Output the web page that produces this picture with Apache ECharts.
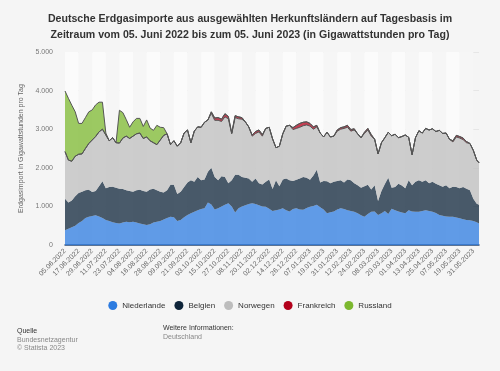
<!DOCTYPE html>
<html>
<head>
<meta charset="utf-8">
<script src="https://cdn.jsdelivr.net/npm/echarts@6/dist/echarts.min.js"></script>
<style>
html,body{margin:0;padding:0;background:#f5f5f5;}
#c{width:500px;height:371px;}
</style>
</head>
<body>
<div id="c"></div>
<script>
// Sample days (offset from 05.06.2022) at which values were read
const days = [0,3,6,9,12,15,18,21,24,27,30,33,36,39,42,45,48,51,54,57,60,63,66,69,72,75,78,81,84,87,90,93,96,99,102,105,108,111,114,117,120,123,126,129,132,135,138,141,144,147,150,153,156,159,162,165,168,171,174,177,180,183,186,189,192,195,198,201,204,207,210,213,216,219,222,225,228,231,234,237,240,243,246,249,252,255,258,261,264,267,270,273,276,279,282,285,288,291,294,297,300,303,306,309,312,315,318,321,324,327,330,333,336,339,342,345,348,351,354,357,360,363,365];

const tickLabels = ["05.06.2022","17.06.2022","29.06.2022","11.07.2022","23.07.2022","04.08.2022","16.08.2022","28.08.2022","09.09.2022","21.09.2022","03.10.2022","15.10.2022","27.10.2022","08.11.2022","20.11.2022","02.12.2022","14.12.2022","26.12.2022","07.01.2023","19.01.2023","31.01.2023","12.02.2023","24.02.2023","08.03.2023","20.03.2023","01.04.2023","13.04.2023","25.04.2023","07.05.2023","19.05.2023","31.05.2023"];

const niederlande = [380,420,460,500,570,620,700,730,750,770,740,700,650,620,590,570,560,580,600,590,600,580,560,540,520,540,580,600,620,660,700,730,720,620,650,720,780,820,860,900,930,950,1100,1050,920,950,1000,1040,1080,1000,840,950,1000,1030,1060,1080,1060,1030,1000,990,940,880,900,920,950,900,870,930,950,920,910,960,990,1010,1040,980,920,820,850,870,920,950,930,900,880,860,820,770,730,800,860,870,780,820,880,800,940,900,870,840,820,900,870,860,860,880,900,880,860,830,780,760,740,730,730,710,690,670,650,640,620,590,560];

const belgien = [820,680,690,760,780,760,720,700,620,630,780,950,820,880,920,910,900,870,820,810,780,840,870,860,860,900,880,820,760,700,720,830,840,700,730,780,840,860,780,860,750,750,800,950,840,730,780,720,520,680,980,870,760,710,660,560,660,570,570,650,760,570,780,600,750,820,810,730,740,800,850,780,700,790,910,640,740,830,750,770,740,730,690,800,800,740,730,710,790,760,580,680,360,580,700,940,540,600,720,700,650,780,680,780,820,760,780,720,780,760,770,750,810,740,780,790,780,830,810,780,580,480,480];

const norwegen = [1220,1100,1020,1040,1000,980,1080,1200,1350,1410,1410,1350,1380,1200,1270,1170,1180,1320,1400,1360,1440,1460,1470,1360,1420,1260,1190,1180,1340,1480,1460,1040,1140,1240,1270,1400,1360,970,1310,1300,1370,1480,1340,1410,1470,1550,1420,1560,1670,1200,1480,1450,1500,1450,1340,1180,1170,1330,1250,1380,1350,1300,840,1040,1180,1360,1420,1330,1330,1330,1330,1370,1390,1200,1110,1280,1140,1270,1200,1180,1290,1320,1400,1350,1270,1380,1330,1300,1370,1420,1380,1190,1220,1250,1200,1180,1350,1370,1190,1270,1380,1110,790,1140,1280,1260,1340,1380,1370,1350,1420,1380,1350,1270,1160,1300,1300,1230,1190,1210,1250,1130,1090];

const frankreich = [0,0,0,0,0,0,0,0,0,0,0,0,0,0,0,0,0,0,0,0,0,0,0,0,0,0,0,0,0,0,0,0,0,0,0,0,0,0,0,0,0,0,0,40,60,70,60,80,60,20,50,50,40,0,0,30,50,50,40,0,0,0,0,0,0,0,0,50,80,100,90,80,70,60,40,0,0,0,0,0,30,40,40,50,40,30,0,0,30,40,40,0,0,0,0,0,0,0,0,0,0,0,0,0,0,0,0,0,0,0,0,0,0,0,30,40,40,40,30,0,0,0,0];

const russland = [1570,1600,1450,1150,800,790,800,820,780,820,770,700,50,0,0,0,850,660,430,290,370,400,380,310,440,330,320,500,330,200,0,0,0,0,0,0,0,0,0,0,0,0,0,0,0,0,0,0,0,0,0,0,0,0,0,0,0,0,0,0,0,0,0,0,0,0,0,0,0,0,0,0,0,0,0,0,0,0,0,0,0,0,0,0,0,0,0,0,0,0,0,0,0,0,0,0,0,0,0,0,0,0,0,0,0,0,0,0,0,0,0,0,0,0,0,0,0,0,0,0,0,0,0];

const seriesNames = ["Niederlande","Belgien","Norwegen","Frankreich","Russland"];
const seriesColors = ["#2c7be0","#0e2439","#bdbdbd","#b3001b","#7cb82f"];
const seriesValues = [niederlande, belgien, norwegen, frankreich, russland];
const withLine = [false,false,true,true,true];

// Daily category axis: 05.06.2022 ... 05.06.2023
const startDate = new Date(Date.UTC(2022, 5, 5));
const totalDays = 366;
const categories = [];
for (let i = 0; i < totalDays; i++) {
  const dt = new Date(startDate.getTime() + i * 86400000);
  const dd = String(dt.getUTCDate()).padStart(2, '0');
  const mm = String(dt.getUTCMonth() + 1).padStart(2, '0');
  categories.push(dd + '.' + mm + '.' + dt.getUTCFullYear());
}

const FONT = "'Liberation Sans', Arial, sans-serif";
const chart = echarts.init(document.getElementById('c'), null, {renderer:'canvas'});

const series = seriesNames.map((name, i) => ({
  name: name,
  type: 'line',
  stack: 'total',
  symbol: 'none',
  showSymbol: false,
  data: days.map((d, k) => [d, seriesValues[i][k]]),
  itemStyle: { color: seriesColors[i] },
  lineStyle: withLine[i] ? { color: '#555', width: 1 } : { width: 0 },
  areaStyle: { color: seriesColors[i], opacity: 0.75 },
  emphasis: { disabled: true },
  z: 2
}));

chart.setOption({
  backgroundColor: '#f5f5f5',
  animation: false,
  textStyle: { fontFamily: FONT },
  title: {
    text: 'Deutsche Erdgasimporte aus ausgewählten Herkunftsländern auf Tagesbasis im\nZeitraum vom 05. Juni 2022 bis zum 05. Juni 2023 (in Gigawattstunden pro Tag)',
    left: 'center',
    top: 6,
    textStyle: { fontSize: 10.6, fontWeight: 'bold', color: '#333', lineHeight: 16, fontFamily: FONT }
  },
  legend: {
    data: seriesNames,
    top: 296,
    left: 'center',
    icon: 'circle',
    itemWidth: 9,
    itemHeight: 9,
    itemGap: 9,
    textStyle: { fontSize: 8, color: '#333', fontFamily: FONT }
  },
  grid: { left: 65, right: 21, top: 52, bottom: 126, containLabel: false },
  xAxis: {
    type: 'category',
    data: categories,
    boundaryGap: false,
    axisLine: { show: true, lineStyle: { color: '#2f4d78', width: 1.5 } },
    axisTick: { show: false, interval: 11 },
    splitLine: { show: false },
    splitArea: { show: true, interval: 11, areaStyle: { color: ['#fbfbfb', '#f6f6f6'] } },
    axisLabel: {
      interval: 11,
      rotate: 45,
      fontSize: 7,
      color: '#666',
      margin: 5,
      fontFamily: FONT,
      formatter: function (v, idx) {
        const k = idx / 12;
        return (idx % 12 === 0 && k < tickLabels.length) ? tickLabels[k] : '';
      }
    }
  },
  yAxis: {
    type: 'value',
    min: 0,
    max: 5000,
    interval: 1000,
    name: 'Erdgasimport in Gigawattstunden pro Tag',
    nameLocation: 'middle',
    nameGap: 33,
    nameTextStyle: { fontSize: 7, color: '#666', fontFamily: FONT },
    axisLine: { show: false },
    axisTick: { show: false },
    splitLine: { show: true, lineStyle: { color: '#e6e6e6', width: 1 } },
    axisLabel: {
      fontSize: 7,
      color: '#777',
      margin: 12,
      fontFamily: FONT,
      formatter: function (v) { return v.toLocaleString('de-DE'); }
    }
  },
  graphic: [
    { type: 'text', left: 17, top: 328, style: { text: 'Quelle', fontSize: 7, fill: '#333', fontFamily: FONT } },
    { type: 'text', left: 17, top: 337, style: { text: 'Bundesnetzagentur', fontSize: 7, fill: '#888', fontFamily: FONT } },
    { type: 'text', left: 17, top: 345, style: { text: '© Statista 2023', fontSize: 7, fill: '#888', fontFamily: FONT } },
    { type: 'text', left: 163, top: 325, style: { text: 'Weitere Informationen:', fontSize: 7, fill: '#333', fontFamily: FONT } },
    { type: 'text', left: 163, top: 334, style: { text: 'Deutschland', fontSize: 7, fill: '#888', fontFamily: FONT } }
  ],
  series: series
});
</script>
</body>
</html>
